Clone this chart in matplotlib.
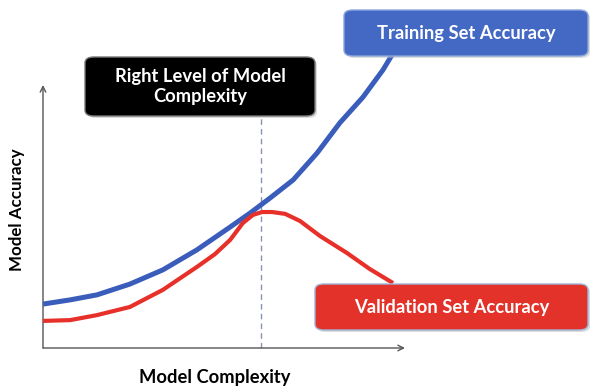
import numpy as np
import matplotlib.pyplot as plt
from matplotlib.patches import FancyBboxPatch

# Datos (complejidad 0-10, precision 0-100)
train_x = [0.0, 0.75, 1.49, 2.40, 3.31, 4.25, 5.17, 5.72, 6.27, 6.91, 7.57, 8.20, 8.84, 9.39, 9.64]
train_y = [16.7, 18.3, 20.2, 24.3, 29.7, 37.3, 46.0, 51.3, 57.0, 63.9, 74.1, 85.6, 95.4, 105.7, 111.4]

val_x = [0.0, 0.75, 1.49, 2.40, 3.31, 4.25, 4.75, 5.17, 5.52, 5.80, 6.05, 6.33, 6.69, 7.10, 7.65, 8.40, 9.03, 9.67]
val_y = [10.3, 10.6, 12.5, 15.6, 22.1, 30.8, 35.7, 41.1, 47.5, 50.6, 51.7, 51.7, 51.0, 48.3, 42.6, 36.1, 30.0, 24.7]

optimo = 6.02  # nivel de complejidad elegido

W, H = 592, 386
fig = plt.figure(figsize=(W / 100, H / 100), dpi=100)
ax = fig.add_axes([43 / W, 1 - 348 / H, (405 - 43) / W, (348 - 85) / H])
ax.set_xlim(0, 10)
ax.set_ylim(0, 100)
ax.axis("off")

# Ejes con flechas
ax.annotate("", xy=(0, 1), xytext=(0, 0), xycoords="axes fraction",
            arrowprops=dict(arrowstyle="->", color="#555555", lw=1.0, shrinkA=0, shrinkB=0))
ax.annotate("", xy=(1, 0), xytext=(0, 0), xycoords="axes fraction",
            arrowprops=dict(arrowstyle="->", color="#555555", lw=1.0, shrinkA=0, shrinkB=0))

# Curvas
ax.plot(train_x, train_y, color="#3a5dbc", lw=3.6, solid_capstyle="butt",
        solid_joinstyle="round", clip_on=False, zorder=3)
ax.plot(val_x, val_y, color="#e8302a", lw=3.0, solid_capstyle="butt",
        solid_joinstyle="round", clip_on=False, zorder=3)

# Linea vertical discontinua
ax.plot([optimo, optimo], [0, (348 - 116) / 263 * 100], color="#8595ad", lw=1.0,
        ls=(0, (4, 3)), clip_on=False, zorder=2)


def caja(x0, y0, x1, y1, cara, borde, texto, tam=13.2):
    # coordenadas en pixeles desde arriba a la izquierda
    bx, by = x0 / W, 1 - y1 / H
    bw, bh = (x1 - x0) / W, (y1 - y0) / H
    sombra = FancyBboxPatch((bx + 2 / W, by - 2 / H), bw, bh, transform=fig.transFigure,
                            boxstyle="round,pad=0,rounding_size=0.015", fc="#bbbbbb",
                            ec="none", alpha=0.5, zorder=4)
    fig.patches.append(sombra)
    p = FancyBboxPatch((bx, by), bw, bh, transform=fig.transFigure,
                       boxstyle="round,pad=0,rounding_size=0.015", fc=cara, ec=borde,
                       lw=1.0, zorder=5)
    fig.patches.append(p)
    fig.text(bx + bw / 2, by + bh / 2, texto, ha="center", va="center", color="white",
             fontsize=tam, fontweight="bold", family="Lato", linespacing=1.2, zorder=6)


caja(344, 10, 588, 56, "#4469c4", "#8aa6dc", "Training Set Accuracy")
caja(85, 57, 315, 116, "black", "#777777", "Right Level of Model\nComplexity")
caja(315, 284, 588, 330, "#e3322a", "#9db4d6", "Validation Set Accuracy")

# Etiquetas de los ejes
fig.text(17 / W, 1 - 210 / H, "Model Accuracy", rotation=90, ha="center", va="center",
         fontsize=12.2, fontweight="bold", family="Lato", color="black")
fig.text(215 / W, 1 - 377 / H, "Model Complexity", ha="center", va="center",
         fontsize=13.2, fontweight="bold", family="Lato", color="black")

plt.savefig("out.png", dpi=100)
